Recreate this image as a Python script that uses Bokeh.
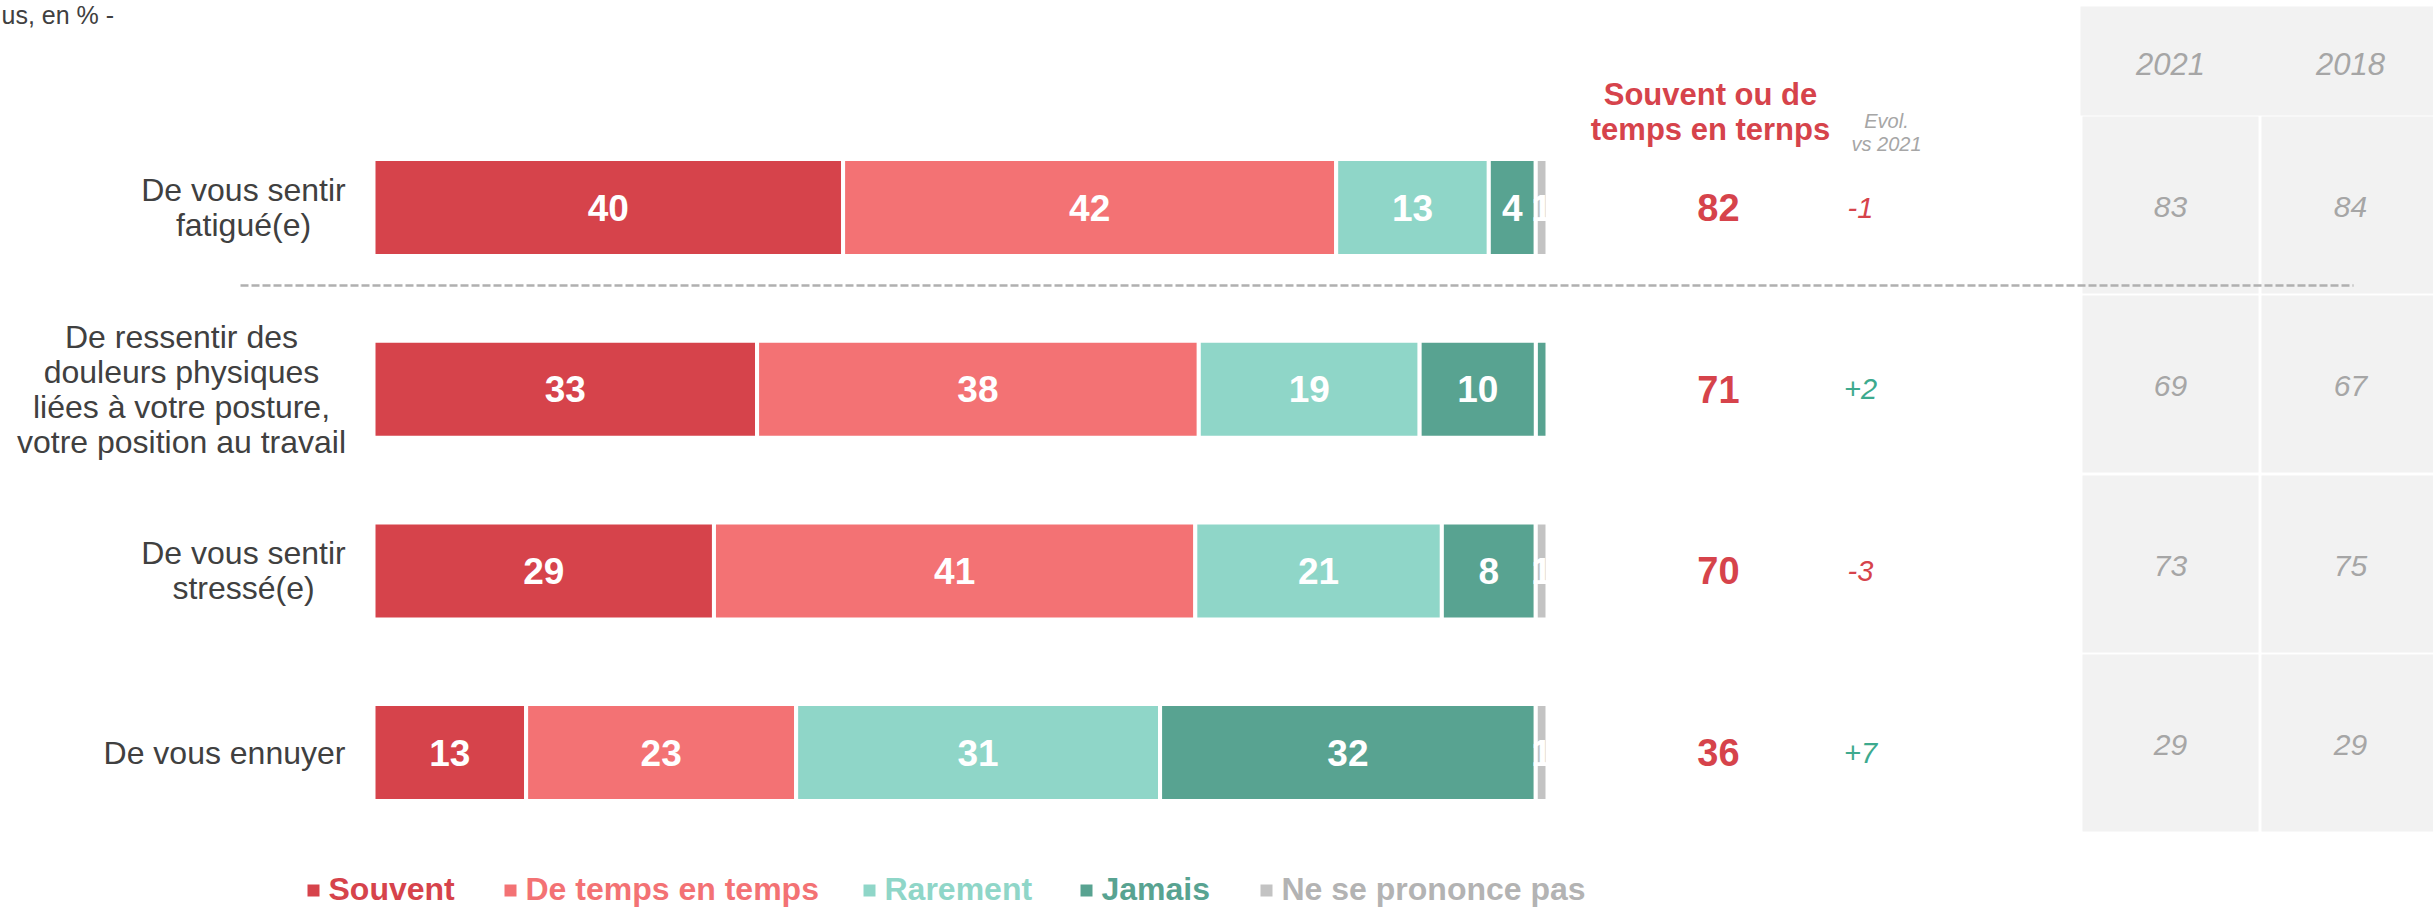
from bokeh.plotting import figure
from bokeh.models import Range1d, ColumnDataSource
from bokeh.embed import file_html
from bokeh.resources import INLINE
from bokeh.core.properties import value

# ---------------- data ----------------
categories = [
    "De vous sentir\nfatigué(e)",
    "De ressentir des\ndouleurs physiques\nliées à votre posture,\nvotre position au travail",
    "De vous sentir\nstressé(e)",
    "De vous ennuyer",
]
series_names = ["Souvent", "De temps en temps", "Rarement", "Jamais", "Ne se prononce pas"]
souvent = [40, 33, 29, 13]
temps = [42, 38, 41, 23]
rarement = [13, 19, 21, 31]
jamais = [4, 10, 8, 32]
nsp = [1, 1, 1, 1]
nsp_labels = ["1", "", "1", "1"]
total = [82, 71, 70, 36]
evol = [-1, 2, -3, 7]
y2021 = [83, 69, 73, 29]
y2018 = [84, 67, 75, 29]
year_labels = ["2021", "2018"]
title_text = "us, en % -"
total_header = ["Souvent ou de", "temps en ternps"]
evol_header = ["Evol.", "vs 2021"]

# ---------------- styles ----------------
FONT = value("Liberation Sans")
series_colors = ["#d6434b", "#f37274", "#8fd6c8", "#58a391", "#c3c3c3"]
nsp_bar_colors = ["#c3c3c3", "#58a391", "#c3c3c3", "#c3c3c3"]
legend_text_colors = ["#d6434b", "#f37274", "#8fd6c8", "#58a391", "#b3b3b3"]
RED = "#d6434b"
GREEN = "#3daa8e"
GREY_TXT = "#a6a6a6"
DARK = "#404040"
PANEL = "#f2f2f2"

# layout (reference pixel coordinates, page origin = figure origin)
W, H = 2433, 907
X0, PX = 373.0, 11.74      # 0 % position, px per %
Y0, RY = 207.0, 181.7      # first row centre, px per row
BAR_H = 97.0

p = figure(width=W, height=H,
           x_range=Range1d(0, W), y_range=Range1d(H, 0),
           output_backend="svg", toolbar_location=None,
           x_axis_location=None, y_axis_location=None, min_border=0)
p.extra_x_ranges = {"pct": Range1d((0 - X0) / PX, (W - X0) / PX)}
p.extra_y_ranges = {"row": Range1d((H - Y0) / RY, (0 - Y0) / RY)}
p.grid.visible = False
p.outline_line_color = None
p.background_fill_color = "white"
p.border_fill_color = "white"

# ---------------- right grey panel ----------------
p.quad(left=[2080], right=[2433], top=[6], bottom=[115], fill_color=PANEL, line_color=None)
col_bounds = [(2082, 2258), (2261, 2433)]
row_bounds = [(116, 293), (295, 472), (475, 652), (654, 831)]
cl, cr, ct, cb = [], [], [], []
for (l, r) in col_bounds:
    for (t, b) in row_bounds:
        cl.append(l); cr.append(r); ct.append(t); cb.append(b)
p.quad(left=cl, right=cr, top=ct, bottom=cb, fill_color=PANEL, line_color=None)

col_cx = [2170, 2350]
for cx, lab in zip(col_cx, year_labels):
    p.text(x=[cx], y=[63], text=[lab], text_font=FONT, text_font_style="italic",
           text_font_size="31px", text_color=GREY_TXT, text_align="center", text_baseline="middle")
cell_cy = [(t + b) / 2 + 1.5 for (t, b) in row_bounds]
for cx, vals in zip(col_cx, [y2021, y2018]):
    p.text(x=[cx] * len(vals), y=cell_cy, text=[str(v) for v in vals], text_font=FONT,
           text_font_style="italic", text_font_size="30px", text_color=GREY_TXT,
           text_align="center", text_baseline="middle")

# separator
p.line([240, 2353], [285, 285], line_color="#b0b0b0", line_width=2.5, line_dash="8 3")

# ---------------- stacked bars (100 % stacked) ----------------
rows, lefts, rights, colors, labels, mids = [], [], [], [], [], []
series_vals = [souvent, temps, rarement, jamais, nsp]
for i in range(len(categories)):
    row_sum = sum(vals[i] for vals in series_vals)
    acc = 0.0
    for k, vals in enumerate(series_vals):
        v = vals[i]
        w = v * 100.0 / row_sum
        rows.append(i)
        lefts.append(acc)
        rights.append(acc + w)
        mids.append(acc + w / 2)
        if k == 4:
            colors.append(nsp_bar_colors[i])
            labels.append(nsp_labels[i])
        else:
            colors.append(series_colors[k])
            labels.append(str(v))
        acc += w
src = ColumnDataSource(dict(row=rows, left=lefts, right=rights, color=colors, label=labels, mid=mids))
p.hbar(y="row", left="left", right="right", height=BAR_H / RY, source=src,
       fill_color="color", line_color="white", line_width=4,
       x_range_name="pct", y_range_name="row")
p.text(x="mid", y="row", text="label", source=src, x_range_name="pct", y_range_name="row",
       text_color="white", text_font=FONT, text_font_style="bold", text_font_size="37px",
       text_align="center", text_baseline="middle")

# ---------------- category labels ----------------
label_cx = [243, 181, 243, 224]
LS = 35
lx, ly, lt, lo = [], [], [], []
for i, cat in enumerate(categories):
    lines = cat.split("\n")
    n = len(lines)
    for j, ln in enumerate(lines):
        lx.append(label_cx[i]); ly.append(i); lt.append(ln); lo.append((j - (n - 1) / 2) * LS)
p.text(x=lx, y=ly, text=lt, y_offset=lo, y_range_name="row", text_font=FONT,
       text_font_size="32px", text_color=DARK, text_align="center", text_baseline="middle")

# ---------------- totals & evolution ----------------
p.text(x=[1710, 1710], y=[93.5, 129], text=total_header, text_font=FONT, text_font_style="bold",
       text_font_size="31px", text_color=RED, text_align="center", text_baseline="middle")
p.text(x=[1886, 1886], y=[120, 143], text=evol_header, text_font=FONT, text_font_style="italic",
       text_font_size="20px", text_color=GREY_TXT, text_align="center", text_baseline="middle")
ridx = list(range(len(categories)))
p.text(x=[1718] * len(total), y=ridx, text=[str(v) for v in total], y_range_name="row",
       text_font=FONT, text_font_style="bold", text_font_size="38px", text_color=RED,
       text_align="center", text_baseline="middle")
p.text(x=[1860] * len(evol), y=ridx, text=["%+d" % v for v in evol], y_range_name="row",
       text_font=FONT, text_font_style="italic", text_font_size="29px",
       text_color=[RED if v < 0 else GREEN for v in evol],
       text_align="center", text_baseline="middle")

# ---------------- title fragment ----------------
p.text(x=[1], y=[14], text=[title_text], text_font=FONT, text_font_size="25px",
       text_color=DARK, text_align="left", text_baseline="middle")

# ---------------- legend ----------------
legend_x = [313, 510, 869, 1086, 1266]
p.rect(x=legend_x, y=[890] * 5, width=12, height=12, fill_color=series_colors, line_color=None)
p.text(x=[x + 15 for x in legend_x], y=[888] * 5, text=series_names, text_font=FONT,
       text_font_style="bold", text_font_size="32px", text_color=legend_text_colors,
       text_align="left", text_baseline="middle")

open("out.html", "w").write(file_html(p, INLINE))
